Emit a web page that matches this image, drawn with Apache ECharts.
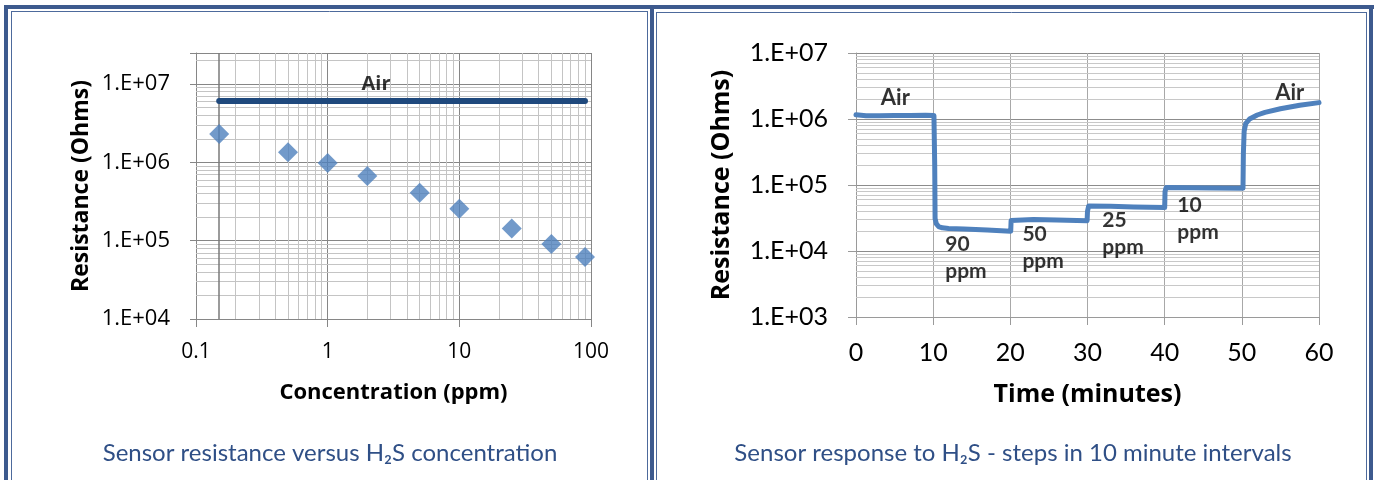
<!DOCTYPE html>
<html>
<head>
<meta charset="utf-8">
<script src="https://cdn.jsdelivr.net/npm/echarts@6/dist/echarts.min.js"></script>
<style>
html,body{margin:0;padding:0;background:#fff;}
#c{width:1380px;height:480px;}
</style>
</head>
<body>
<div id="c"></div>
<script>
// ---------- Left chart: resistance vs concentration ----------
const concPpm        = [0.15, 0.5, 1, 2, 5, 10, 25, 50, 90];
const resistanceOhms = [2.3e6, 1.35e6, 9.8e5, 6.7e5, 4.1e5, 2.57e5, 1.43e5, 9.1e4, 6.2e4];
const airLineX = [0.15, 90];
const airLineY = [6.1e6, 6.1e6];
const leftNoteX = [2.33];
const leftNoteY = [1.0e7];
const leftNoteText = ['Air'];
const leftXTickLabels = ['0.1', '1', '10', '100'];          // 10^-1 .. 10^2
const leftYTickLabels = ['1.E+04', '1.E+05', '1.E+06', '1.E+07']; // 10^4 .. 10^7

// ---------- Right chart: step response ----------
const timeMin = [0, 1.3, 3, 5, 7, 9, 10.1, 10.2, 10.25, 10.4, 10.7, 11.2, 12, 14, 17, 20.05,
                 20.1, 20.25, 23, 26, 29.95, 30.0, 30.15, 33, 36, 40.0, 40.05, 40.2, 43, 46, 50.15,
                 50.2, 50.3, 50.5, 51, 52, 53, 55, 57.5, 60];
const respOhms = [1.16e6, 1.12e6, 1.12e6, 1.13e6, 1.13e6, 1.14e6, 1.13e6, 2.0e5, 3.1e4, 2.6e4, 2.35e4, 2.25e4, 2.2e4, 2.15e4, 2.08e4, 2.0e4,
                  2.9e4, 3.05e4, 3.0e4, 2.95e4, 2.88e4, 4.0e4, 4.8e4, 4.75e4, 4.65e4, 4.55e4, 8.0e4, 9.2e4, 9.1e4, 9.0e4, 8.9e4,
                  3.0e5, 6.5e5, 8.5e5, 1.0e6, 1.15e6, 1.26e6, 1.43e6, 1.62e6, 1.77e6];
const airNoteX = [5.1, 56.2];
const airNoteY = [2.1e6, 2.5e6];
const airNoteText = ['Air', 'Air'];
const ppmNoteX = [11.5, 21.5, 31.85, 41.57];
const ppmNoteY = [8.0e3, 1.14e4, 1.81e4, 3.05e4];
const ppmNoteText = ['90\nppm', '50\nppm', '25\nppm', '10\nppm'];
const rightXTickLabels = ['0', '10', '20', '30', '40', '50', '60'];
const rightYTickLabels = ['1.E+03', '1.E+04', '1.E+05', '1.E+06', '1.E+07']; // 10^3 .. 10^7

const leftCaption  = 'Sensor resistance versus H\u2082S concentration';
const rightCaption = 'Sensor response to H\u2082S - steps in 10 minute intervals';

// ---------- helpers ----------
function logLabel(labels, firstExp) {
  return function (v) {
    const e = Math.log10(v);
    const r = Math.round(e);
    if (Math.abs(e - r) > 1e-6) return '';
    return labels[r - firstExp] || '';
  };
}
function logMinor(firstExp, lastExp, maxVal) {
  const out = [];
  for (let e = firstExp; e <= lastExp; e++) {
    for (let m = 2; m <= 9; m++) {
      const v = m * Math.pow(10, e);
      if (v < maxVal) out.push(v);
    }
  }
  return out;
}
const leftMinorX = logMinor(-1, 1, 100);
const leftMinorY = logMinor(4, 7, 2.5e7);
const rightMinorY = logMinor(3, 6, 1e7);

const BORDER = '#3D5A8E';
const THIN = '#4D6A9C';

const chart = echarts.init(document.getElementById('c'), null, {renderer: 'canvas'});

const option = {
  animation: false,
  backgroundColor: '#ffffff',
  textStyle: {fontFamily: 'Open Sans'},
  grid: [
    {left: 196, top: 53, width: 395, height: 266},
    {left: 856, top: 53, width: 463, height: 264}
  ],
  xAxis: [
    {
      gridIndex: 0, type: 'log', logBase: 10, min: 0.1, max: 100,
      axisLine: {show: true, lineStyle: {color: '#868686', width: 1}},
      axisTick: {show: true, inside: false, length: 8, lineStyle: {color: '#868686'}},
      axisLabel: {margin: 23, formatter: logLabel(leftXTickLabels, -1),
                  fontFamily: 'Open Sans', fontSize: 21, color: '#000'},
      splitLine: {show: true, lineStyle: {color: '#868686', width: 1}},
      name: 'Concentration (ppm)', nameLocation: 'middle', nameGap: 63,
      nameTextStyle: {fontFamily: 'Open Sans', fontWeight: 'bold', fontSize: 22, color: '#000'}
    },
    {
      gridIndex: 1, type: 'value', min: 0, max: 60, interval: 10,
      axisLine: {show: true, lineStyle: {color: '#9A9A9A', width: 1}},
      axisTick: {show: true, inside: false, length: 8, lineStyle: {color: '#9A9A9A'}},
      axisLabel: {margin: 23, formatter: function (v) { return rightXTickLabels[Math.round(v / 10)] || ''; },
                  fontFamily: 'Lato', fontSize: 25, color: '#000'},
      splitLine: {show: true, lineStyle: {color: '#A8A8A8', width: 1}},
      name: 'Time (minutes)', nameLocation: 'middle', nameGap: 65,
      nameTextStyle: {fontFamily: 'Open Sans', fontWeight: 'bold', fontSize: 25, color: '#000'}
    }
  ],
  yAxis: [
    {
      gridIndex: 0, type: 'log', logBase: 10, min: 1e4, max: 2.5e7,
      axisLine: {show: true, lineStyle: {color: '#868686', width: 1}},
      axisTick: {show: true, inside: false, length: 6, lineStyle: {color: '#868686'}},
      axisLabel: {margin: 26, formatter: logLabel(leftYTickLabels, 4),
                  fontFamily: 'Open Sans', fontSize: 22, color: '#000'},
      splitLine: {show: true, lineStyle: {color: '#868686', width: 1}},
      name: 'Resistance (Ohms)', nameLocation: 'middle', nameGap: 103,
      nameTextStyle: {fontFamily: 'Open Sans', fontWeight: 'bold', fontSize: 23, color: '#000'}
    },
    {
      gridIndex: 1, type: 'log', logBase: 10, min: 1e3, max: 1e7,
      axisLine: {show: true, lineStyle: {color: '#9A9A9A', width: 1}},
      axisTick: {show: true, inside: false, length: 8, lineStyle: {color: '#9A9A9A'}},
      axisLabel: {margin: 28, formatter: logLabel(rightYTickLabels, 3),
                  fontFamily: 'Lato', fontSize: 25, color: '#000'},
      splitLine: {show: true, lineStyle: {color: '#8C8C8C', width: 1}},
      name: 'Resistance (Ohms)', nameLocation: 'middle', nameGap: 122,
      nameTextStyle: {fontFamily: 'Open Sans', fontWeight: 'bold', fontSize: 25, color: '#000'}
    }
  ],
  series: [
    {
      name: 'leftMinorGrid', type: 'line', xAxisIndex: 0, yAxisIndex: 0, data: [], z: 1,
      markLine: {
        z: 1, silent: true, symbol: ['none', 'none'], label: {show: false}, animation: false,
        lineStyle: {color: '#C4C4C4', width: 1, type: 'solid'},
        data: leftMinorX.map(v => ({xAxis: v}))
          .concat(leftMinorY.map(v => ({yAxis: v})))
          .concat([{xAxis: concPpm[0], lineStyle: {color: '#7A7A7A', width: 1.5, type: 'solid'}}])
      }
    },
    {
      name: 'Air', type: 'line', xAxisIndex: 0, yAxisIndex: 0, z: 6,
      data: airLineX.map((x, i) => [x, airLineY[i]]),
      symbol: 'none',
      lineStyle: {color: '#1F497D', width: 6, cap: 'round'}
    },
    {
      name: 'Resistance', type: 'scatter', xAxisIndex: 0, yAxisIndex: 0, z: 7,
      data: concPpm.map((x, i) => [x, resistanceOhms[i]]),
      symbol: 'diamond', symbolSize: 20,
      itemStyle: {color: '#4F81BD'}
    },
    {
      name: 'leftNotes', type: 'scatter', xAxisIndex: 0, yAxisIndex: 0, z: 8,
      data: leftNoteX.map((x, i) => ({value: [x, leftNoteY[i]], name: leftNoteText[i]})),
      symbolSize: 1, itemStyle: {color: 'rgba(0,0,0,0)'},
      label: {show: true, position: 'inside', formatter: '{b}',
              fontFamily: 'Open Sans', fontWeight: 'bold', fontSize: 20, color: '#000'}
    },
    {
      name: 'rightMinorGrid', type: 'line', xAxisIndex: 1, yAxisIndex: 1, data: [], z: 1,
      markLine: {
        z: 1, silent: true, symbol: ['none', 'none'], label: {show: false}, animation: false,
        lineStyle: {color: '#C8C8C8', width: 1, type: 'solid'},
        data: rightMinorY.map(v => ({yAxis: v}))
      }
    },
    {
      name: 'Response', type: 'line', xAxisIndex: 1, yAxisIndex: 1, z: 6,
      data: timeMin.map((t, i) => [t, respOhms[i]]),
      symbol: 'none',
      lineStyle: {color: '#4F81BD', width: 5, cap: 'round', join: 'round'}
    },
    {
      name: 'airNotes', type: 'scatter', xAxisIndex: 1, yAxisIndex: 1, z: 8,
      data: airNoteX.map((x, i) => ({value: [x, airNoteY[i]], name: airNoteText[i]})),
      symbolSize: 1, itemStyle: {color: 'rgba(0,0,0,0)'},
      label: {show: true, position: 'inside', formatter: '{b}',
              fontFamily: 'Lato', fontWeight: 'bold', fontSize: 22, color: '#000'}
    },
    {
      name: 'ppmNotes', type: 'scatter', xAxisIndex: 1, yAxisIndex: 1, z: 8,
      data: ppmNoteX.map((x, i) => ({value: [x, ppmNoteY[i]], name: ppmNoteText[i]})),
      symbolSize: 1, itemStyle: {color: 'rgba(0,0,0,0)'},
      label: {show: true, position: 'right', distance: 0, align: 'left', formatter: '{b}',
              lineHeight: 27,
              fontFamily: 'Lato', fontWeight: 'bold', fontSize: 21, color: '#000'}
    }
  ],
  graphic: [
    // thick outer frame
    {type: 'rect', silent: true, shape: {x: 4, y: 5, width: 1370, height: 4}, style: {fill: BORDER}},
    {type: 'rect', silent: true, shape: {x: 4, y: 5, width: 4, height: 480}, style: {fill: BORDER}},
    {type: 'rect', silent: true, shape: {x: 650, y: 5, width: 4, height: 480}, style: {fill: BORDER}},
    {type: 'rect', silent: true, shape: {x: 1369, y: 5, width: 4, height: 480}, style: {fill: BORDER}},
    // thin inner lines, left panel
    {type: 'line', silent: true, shape: {x1: 11, y1: 11.5, x2: 648, y2: 11.5}, style: {stroke: THIN, lineWidth: 1}},
    {type: 'line', silent: true, shape: {x1: 11.5, y1: 11, x2: 11.5, y2: 480}, style: {stroke: THIN, lineWidth: 1}},
    {type: 'line', silent: true, shape: {x1: 647.5, y1: 11, x2: 647.5, y2: 480}, style: {stroke: THIN, lineWidth: 1}},
    // thin inner lines, right panel
    {type: 'line', silent: true, shape: {x1: 656, y1: 12.5, x2: 1367, y2: 12.5}, style: {stroke: THIN, lineWidth: 1}},
    {type: 'line', silent: true, shape: {x1: 656.5, y1: 12, x2: 656.5, y2: 480}, style: {stroke: THIN, lineWidth: 1}},
    {type: 'line', silent: true, shape: {x1: 1366.5, y1: 12, x2: 1366.5, y2: 480}, style: {stroke: THIN, lineWidth: 1}},
    // captions
    {type: 'text', silent: true, x: 330, y: 453,
     style: {text: leftCaption, align: 'center', verticalAlign: 'middle',
             fontFamily: 'Lato', fontSize: 24, fill: '#2F4F86'}},
    {type: 'text', silent: true, x: 1013, y: 453,
     style: {text: rightCaption, align: 'center', verticalAlign: 'middle',
             fontFamily: 'Lato', fontSize: 24, fill: '#2F4F86'}}
  ]
};
chart.setOption(option);
</script>
</body>
</html>
